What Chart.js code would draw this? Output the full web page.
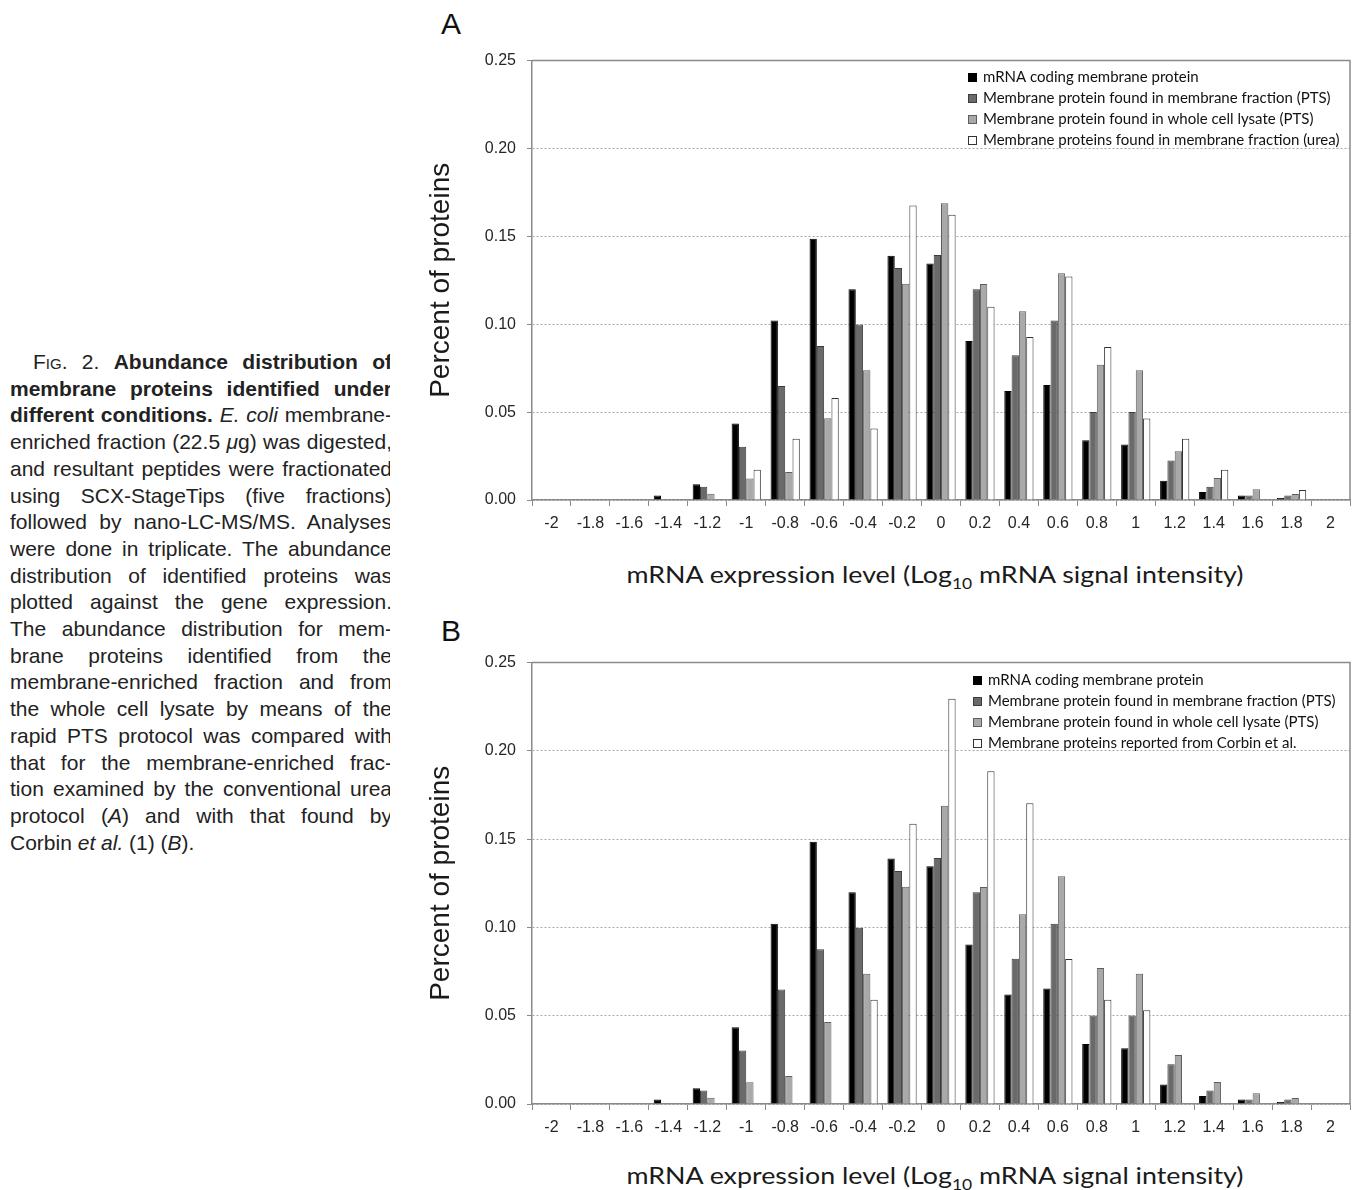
<!DOCTYPE html>
<html>
<head>
<meta charset="utf-8">
<script src="https://cdn.jsdelivr.net/npm/chart.js@4.4.1/dist/chart.umd.min.js"></script>
<style>
  body { margin: 0; background: #fff; width: 1359px; height: 1190px; position: relative; overflow: hidden; }
  .panel { position: absolute; font-family: "Liberation Sans", Arial, sans-serif; font-size: 30px; color: #111; line-height: 30px; }
  .xtitle { position: absolute; left: 526px; width: 818px; text-align: center; font-family: Lato, sans-serif; font-size: 23px; color: #1a1a1a; line-height: 23px; transform: scaleX(1.165); transform-origin: 50% 50%; white-space: nowrap; }
  .xtitle sub { font-size: 15px; line-height: 0; vertical-align: -6px; }
  canvas { position: absolute; }
  #clip { position: absolute; left: 0; top: 349px; width: 390px; height: 520px; overflow: hidden; }
  #caption { position: absolute; left: 10px; top: 0; width: 382px; font-family: "Liberation Sans", Arial, sans-serif; font-size: 21px; line-height: 26.7px; color: #222; }
  #caption div { text-align: justify; text-align-last: justify; }
  #caption div.last { text-align-last: left; }
  .sc { font-variant: small-caps; }
</style>
</head>
<body>
<div id="clip">
<div id="caption">
  <div style="padding-left:23px"><span class="sc">Fig</span>. 2. <b>Abundance distribution of</b></div>
  <div><b>membrane proteins identified under</b></div>
  <div><b>different conditions.</b> <i>E. coli</i> membrane-</div>
  <div>enriched fraction (22.5 <i>μ</i>g) was digested,</div>
  <div>and resultant peptides were fractionated</div>
  <div>using SCX-StageTips (five fractions)</div>
  <div>followed by nano-LC-MS/MS. Analyses</div>
  <div>were done in triplicate. The abundance</div>
  <div>distribution of identified proteins was</div>
  <div>plotted against the gene expression.</div>
  <div>The abundance distribution for mem-</div>
  <div>brane proteins identified from the</div>
  <div>membrane-enriched fraction and from</div>
  <div>the whole cell lysate by means of the</div>
  <div>rapid PTS protocol was compared with</div>
  <div>that for the membrane-enriched frac-</div>
  <div>tion examined by the conventional urea</div>
  <div>protocol (<i>A</i>) and with that found by</div>
  <div class="last">Corbin <i>et al.</i> (1) (<i>B</i>).</div>
</div>
</div>

<div class="panel" style="left:441px; top:9px;">A</div>
<canvas id="chartA" width="939" height="510" style="left:420px; top:40px;"></canvas>
<div class="xtitle" style="top:563px;">mRNA expression level (Log<sub>10</sub> mRNA signal intensity)</div>

<div class="panel" style="left:441px; top:616px;">B</div>
<canvas id="chartB" width="939" height="512" style="left:420px; top:642px;"></canvas>
<div class="xtitle" style="top:1164px;">mRNA expression level (Log<sub>10</sub> mRNA signal intensity)</div>

<script>
// x categories (Log10 mRNA signal intensity)
var levels = ["-2", "-1.8", "-1.6", "-1.4", "-1.2", "-1", "-0.8", "-0.6", "-0.4", "-0.2", "0",
              "0.2", "0.4", "0.6", "0.8", "1", "1.2", "1.4", "1.6", "1.8", "2"];
var yTicks = [0, 0.05, 0.10, 0.15, 0.20, 0.25];

// series (fraction of proteins)
var mrnaCoding      = [0, 0, 0, 0.0026, 0.0089, 0.0435, 0.1021, 0.1486, 0.1199, 0.1390, 0.1346, 0.0904, 0.0620, 0.0654, 0.0340, 0.0316, 0.0110, 0.0045, 0.0025, 0.0011, 0];
var membraneFracPTS = [0, 0, 0, 0, 0.0076, 0.0303, 0.0649, 0.0876, 0.0998, 0.1320, 0.1394, 0.1199, 0.0823, 0.1021, 0.0501, 0.0501, 0.0225, 0.0076, 0.0025, 0.0025, 0];
var wholeLysatePTS  = [0, 0, 0, 0, 0.0036, 0.0123, 0.0159, 0.0465, 0.0738, 0.1231, 0.1689, 0.1229, 0.1074, 0.1290, 0.0770, 0.0738, 0.0278, 0.0125, 0.0061, 0.0034, 0];
var membraneFracUrea = [0, 0, 0, 0, 0, 0.0172, 0.0348, 0.0581, 0.0407, 0.1676, 0.1623, 0.1099, 0.0927, 0.1271, 0.0870, 0.0463, 0.0348, 0.0172, 0, 0.0057, 0];
var corbinReported  = [0, 0, 0, 0, 0, 0, 0, 0, 0.0591, 0.1587, 0.2295, 0.1884, 0.1704, 0.0821, 0.0591, 0.0531, 0, 0, 0, 0, 0];

var labelA = ["mRNA coding membrane protein",
              "Membrane protein found in membrane fraction (PTS)",
              "Membrane protein found in whole cell lysate (PTS)",
              "Membrane proteins found in membrane fraction (urea)"];
var labelB = ["mRNA coding membrane protein",
              "Membrane protein found in membrane fraction (PTS)",
              "Membrane protein found in whole cell lysate (PTS)",
              "Membrane proteins reported from Corbin et al."];

var fills = ["#000000", "#6a6a6a", "#a9a9a9", "#ffffff"];
var edges = ["#000000", "#3c3c3c", "#5e5e5e", "#333333"];

// box around plot area
var frame = {
    id: "frame",
    afterDraw(chart) {
        var a = chart.chartArea;
        var ctx = chart.ctx;
        ctx.save();
        ctx.strokeStyle = "#8a8a8a";
        ctx.lineWidth = 1.5;
        ctx.beginPath();
        ctx.moveTo(a.left, a.top);
        ctx.lineTo(a.right, a.top);
        ctx.lineTo(a.right, a.bottom);
        ctx.stroke();
        ctx.restore();
    }
};
// legend drawn inside the plot area
var legendBox = {
    id: "legendBox",
    afterDraw(chart, args, opts) {
        var ctx = chart.ctx;
        ctx.save();
        ctx.font = "15px Lato";
        ctx.textBaseline = "middle";
        chart.data.datasets.forEach((ds, i) => {
            var y = opts.y + i * 21;
            ctx.fillStyle = ds.backgroundColor;
            ctx.fillRect(opts.x, y - 4, 9, 9);
            ctx.strokeStyle = ds.borderColor;
            ctx.lineWidth = 1;
            ctx.strokeRect(opts.x + 0.5, y - 3.5, 8, 8);
            ctx.fillStyle = "#111";
            ctx.fillText(ds.label, opts.x + 15, y);
        });
        ctx.restore();
    }
};

function makeDatasets(labels, series) {
    return series.map((s, i) => ({
        label: labels[i],
        data: s,
        backgroundColor: fills[i],
        borderColor: edges[i],
        borderWidth: 1,
        categoryPercentage: 0.75,
        barPercentage: 1.0
    }));
}

function drawChart(id, labels, series, legendPos) {
    var tickFont = { family: "'Liberation Sans', Arial, sans-serif", size: 16 };
    return new Chart(document.getElementById(id), {
        type: "bar",
        data: { labels: levels, datasets: makeDatasets(labels, series) },
        options: {
            responsive: false,
            animation: false,
            devicePixelRatio: 1,
            layout: { padding: { top: 19, right: 9, left: 0, bottom: 0 } },
            plugins: {
                legend: { display: false },
                tooltip: { enabled: false },
                legendBox: legendPos
            },
            scales: {
                x: {
                    offset: true,
                    grid: { offset: true, drawOnChartArea: false, tickLength: 6, color: "#8a8a8a", tickColor: "#8a8a8a" },
                    border: { display: true, color: "#8a8a8a", width: 1.5 },
                    ticks: { font: tickFont, color: "#262626", padding: 8, maxRotation: 0, autoSkip: false },
                    afterFit: s => { s.height = 50; }
                },
                y: {
                    min: 0,
                    max: 0.25,
                    afterBuildTicks: s => { s.ticks = yTicks.map(v => ({ value: v })); },
                    grid: { color: "#a8a8a8", tickLength: 5, tickColor: "#8a8a8a", tickBorderDash: [] },
                    border: { display: true, color: "#8a8a8a", width: 1.5, dash: [2, 2] },
                    ticks: { font: tickFont, color: "#262626", padding: 11, callback: v => v.toFixed(2) },
                    title: {
                        display: true,
                        text: "Percent of proteins",
                        font: { family: "'Liberation Sans', Arial, sans-serif", size: 28 },
                        color: "#1a1a1a",
                        padding: { top: 4, bottom: 0 }
                    },
                    afterFit: s => { s.width = 112; }
                }
            }
        },
        plugins: [frame, legendBox]
    });
}

drawChart("chartA", labelA, [mrnaCoding, membraneFracPTS, wholeLysatePTS, membraneFracUrea], { x: 548, y: 37 });
drawChart("chartB", labelB, [mrnaCoding, membraneFracPTS, wholeLysatePTS, corbinReported], { x: 553, y: 38 });
</script>
</body>
</html>
